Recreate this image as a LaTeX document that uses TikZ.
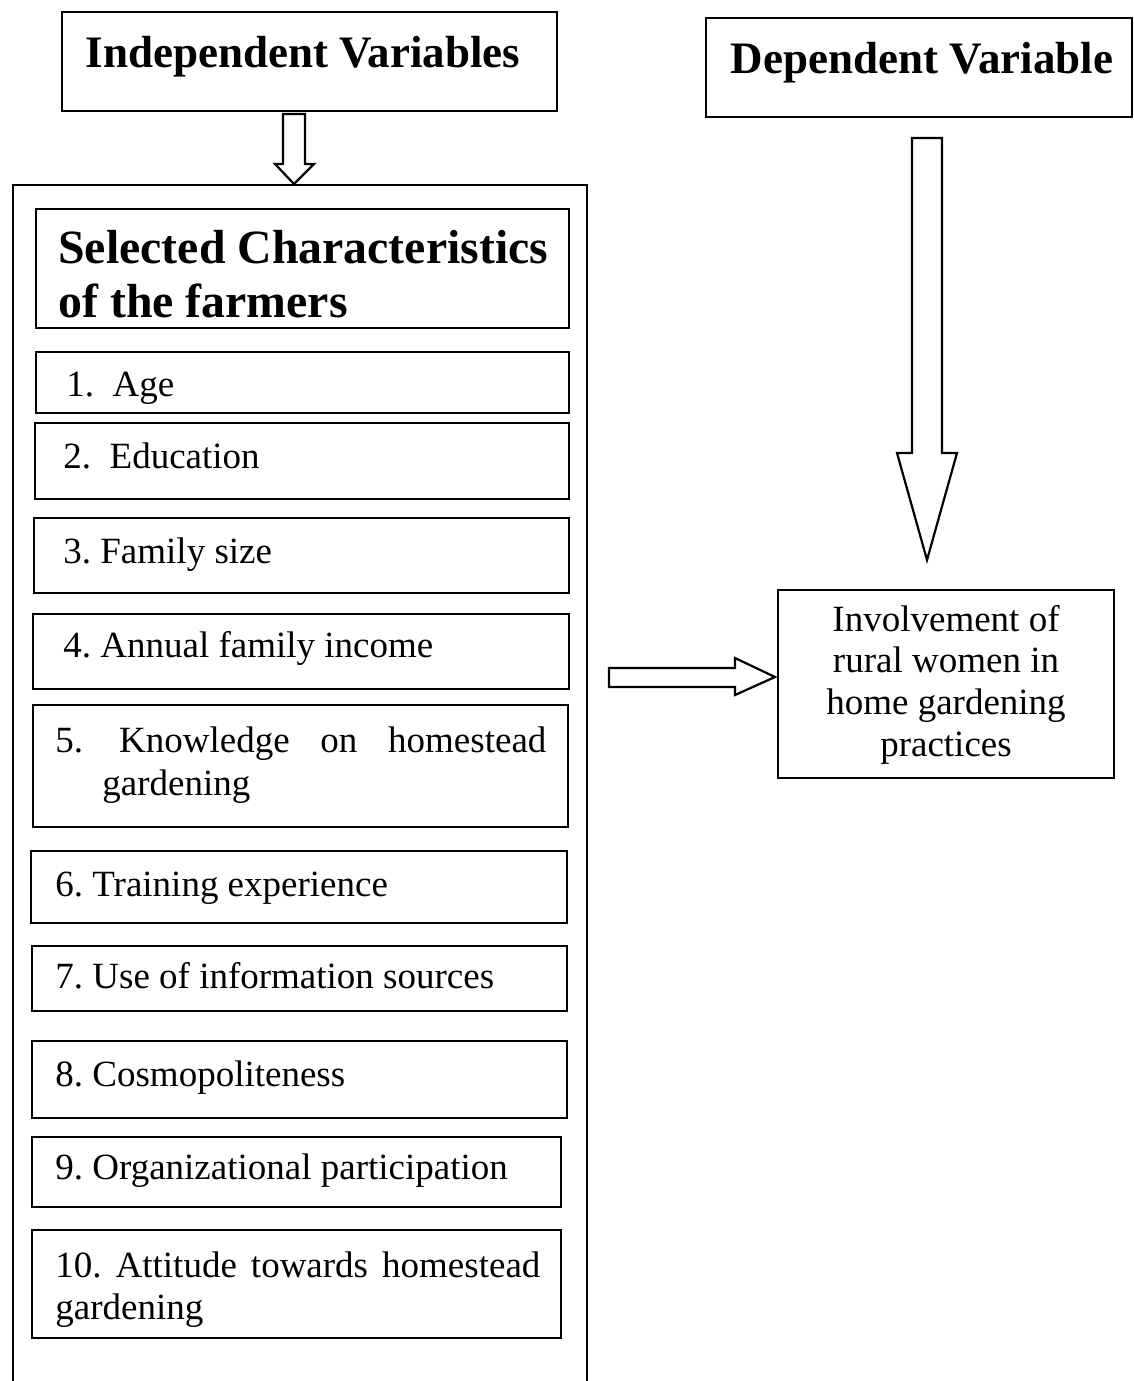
\documentclass[tikz,border=0pt]{standalone}
\usepackage{fontspec}
\setmainfont{Liberation Serif}
\usetikzlibrary{fit}
\frenchspacing
\begin{document}
\frenchspacing
\begin{tikzpicture}[x=0.5pt,y=-0.5pt,
  box/.style={draw=black, line width=1.1pt, inner sep=0pt, fill=none},
  head/.style={font=\bfseries\fontsize{22.5pt}{26pt}\selectfont, inner sep=0pt},
  selhead/.style={font=\bfseries\fontsize{23.9pt}{28pt}\selectfont, inner sep=0pt, anchor=base west},
  item/.style={font=\fontsize{18.5pt}{21pt}\selectfont, inner sep=0pt, anchor=base west},
  dep/.style={font=\fontsize{18.5pt}{21pt}\selectfont, inner sep=0pt, anchor=base},
  blockarrow/.style={draw=black, line width=1.1pt, fill=white, line join=miter}
]
\useasboundingbox (0,0) rectangle (1134,1381);
\fill[white] (0,0) rectangle (1134,1381);

% header boxes
\node[box, fit={(62,12) (557,111)}] (ind) {};
\node[head, anchor=base] (indt) at (303,67) {Independent Variables};
\node[box, fit={(706,18) (1132,117)}] (depbox) {};
\node[head, anchor=base] (dept) at (922,73) {Dependent Variable};

% outer frame (open at the bottom)
\coordinate (obl) at (13,1381);
\coordinate (otl) at (13,185);
\coordinate (otr) at (587,185);
\coordinate (obr) at (587,1381);
\draw[line width=1.1pt] (obl) -- (otl) -- (otr) -- (obr);

% small down arrow
\draw[blockarrow] (283,114) -- (305,114) -- (305,164) -- (314,164) -- (294,184)
  -- (275,164) -- (283,164) -- cycle;

% selected characteristics
\node[box, fit={(36,209) (569,328)}] (sel) {};
\node[selhead] (selt1) at (58,263) {Selected Characteristics};
\node[selhead] (selt2) at (58,317) {of the farmers};

% items
\node[box, fit={(36,352) (569,413)}] (b1) {};
\node[item] (t1) at (66,396) {1.\ \ Age};
\node[box, fit={(35,423) (569,499)}] (b2) {};
\node[item] (t2) at (63,468) {2.\ \ Education};
\node[box, fit={(34,518) (569,593)}] (b3) {};
\node[item] (t3) at (63,563) {3. Family size};
\node[box, fit={(33,614) (569,689)}] (b4) {};
\node[item] (t4) at (63,657) {4. Annual family income};
\node[box, fit={(33,705) (568,827)}] (b5) {};
\node[item] (t5a) at (55,752) {\makebox[245.5pt][s]{5.\hspace{18pt}Knowledge\hfill on\hfill homestead}};
\node[item] (t5b) at (102,795) {gardening};
\node[box, fit={(31,851) (567,923)}] (b6) {};
\node[item] (t6) at (55,896) {6. Training experience};
\node[box, fit={(32,946) (567,1011)}] (b7) {};
\node[item] (t7) at (55,988) {7. Use of information sources};
\node[box, fit={(32,1041) (567,1118)}] (b8) {};
\node[item] (t8) at (55,1086) {8. Cosmopoliteness};
\node[box, fit={(32,1137) (561,1207)}] (b9) {};
\node[item] (t9) at (55,1179) {9. Organizational participation};
\node[box, fit={(32,1230) (561,1338)}] (b10) {};
\node[item] (t10a) at (55,1277) {\makebox[242.5pt][s]{10. Attitude towards homestead}};
\node[item] (t10b) at (55,1319) {gardening};

% big down arrow
\draw[blockarrow] (912,138) -- (942,138) -- (942,453) -- (957,453) -- (927,560)
  -- (897,453) -- (912,453) -- cycle;

% right arrow
\draw[blockarrow] (609,668) -- (735,668) -- (735,658) -- (775,677) -- (735,695)
  -- (735,687) -- (609,687) -- cycle;

% dependent variable box
\node[box, fit={(778,590) (1114,778)}] (inv) {};
\node[dep] (i1) at (946,631) {Involvement of};
\node[dep] (i2) at (946,672) {rural women in};
\node[dep] (i3) at (946,714) {home gardening};
\node[dep] (i4) at (946,756) {practices};
\end{tikzpicture}
\end{document}
